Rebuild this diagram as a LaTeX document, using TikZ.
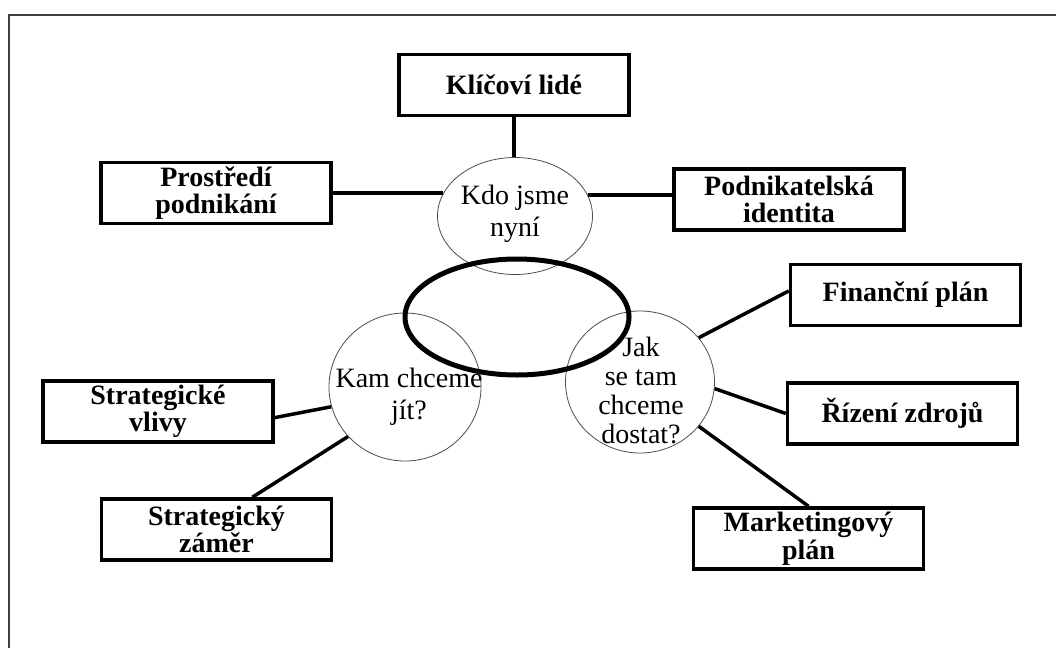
\documentclass[tikz,border=0pt]{standalone}
\usepackage{fontspec}
\setmainfont{Liberation Serif}
\usetikzlibrary{shapes.geometric, positioning}

\begin{document}
\begin{tikzpicture}[x=1pt, y=-1pt,
    goalbox/.style={draw, line width=3.5pt, minimum width=230pt, minimum height=61pt,
        align=center, inner sep=1pt, font=\bfseries\fontsize{28}{27.5}\selectfont},
    question/.style={ellipse, draw=black!70, line width=0.8pt, inner sep=0pt},
    qtext/.style={align=center, inner sep=0pt, font=\fontsize{28}{32}\selectfont},
    link/.style={line width=3.5pt}]
    \useasboundingbox (0,0) rectangle (1056,648);
    \draw[line width=1.5pt, black!75] (9,648) |- (1056,15);

    % the three questions
    \node[question, minimum width=155pt, minimum height=117pt] (kdo) at (515,216) {};
    \node[question, minimum width=152pt, minimum height=148pt] (kam) at (405,387) {};
    \node[question, minimum width=149pt, minimum height=142pt] (jak) at (640,382) {};
    \node[qtext] (kdotext) at (515,214) {Kdo jsme\\nyní};
    \node[qtext] (kamtext) at (409,397) {Kam chceme\\jít?};
    \node[qtext, font=\fontsize{28}{29}\selectfont] (jaktext) at (641,390) {Jak\\se tam\\chceme\\dostat?};
    \draw[line width=5pt] (517,317) ellipse [x radius=112, y radius=58];

    % boxes
    \node[goalbox] (klicovi) at (514,85) {Klíčoví lidé};
    \node[goalbox] (prostredi) at (216,193) {Prostředí\\podnikání};
    \node[goalbox] (identita) at (789,199.5) {Podnikatelská\\identita};
    \node[goalbox] (financni) at (905.5,295) {Finanční plán};
    \node[goalbox] (zdroje) at (902.5,413.5) {Řízení zdrojů};
    \node[goalbox] (marketing) at (808.5,538.5) {Marketingový\\plán};
    \node[goalbox] (vlivy) at (158,411.5) {Strategické\\vlivy};
    \node[goalbox] (zamer) at (216.5,529.5) {Strategický\\záměr};

    \draw[link] (klicovi.south) -- (klicovi.south |- kdo.north);
    \draw[link] (kdo.162) -- (kdo.162 -| prostredi.east);
    \draw[link] (kdo.16) -- (kdo.16 -| identita.west);
    \draw[link] (kam.195) -- (vlivy.-3);
    \draw[link] (kam.221) -- (zamer.42.5);
    \draw[link] (jak.37) -- (financni.178.5);
    \draw[link] (jak.-5) -- (zdroje.west);
    \draw[link] (jak.-37) -- (marketing.north);
\end{tikzpicture}
\end{document}
